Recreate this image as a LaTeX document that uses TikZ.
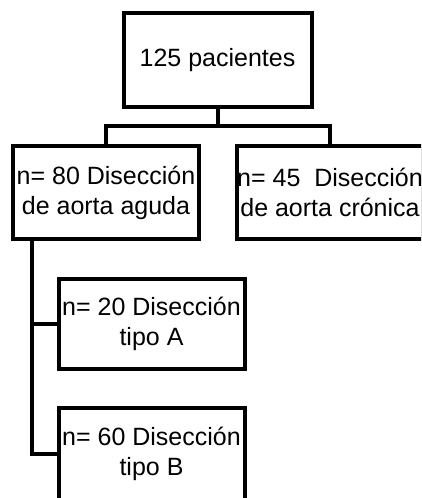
\documentclass[tikz,border=0pt]{standalone}
\usepackage{fontspec}
\setmainfont{Liberation Sans}
\begin{document}
\begin{tikzpicture}[x=1pt,y=-1pt,
  box/.style={draw, line width=4pt, inner sep=0pt, align=center,
    font=\fontsize{25}{30}\selectfont},
  link/.style={line width=4pt}]
\useasboundingbox (0,0) rectangle (421,498);
\clip (0,0) rectangle (421,498);
\node[box, minimum width=188pt, minimum height=94pt] (top) at (217.5,60) {125 pacientes};
\node[box, minimum width=186pt, minimum height=93pt] (left) at (106,192.5) {n= 80 Disección\\de aorta aguda};
\node[box, minimum width=186pt, minimum height=93pt] (right) at (330,192.5) {n=~45~~Disección\\de aorta crónica};
\node[box, minimum width=186pt, minimum height=90pt] (tA) at (151.5,324) {n= 20 Disección\\tipo A};
\node[box, minimum width=186pt, minimum height=92pt] (tB) at (151.5,454) {n= 60 Disección\\tipo B};
\coordinate (j) at (217.5,126);
\draw[link] (top.south) -- (j);
\draw[link] (left.north) |- (j) -| (right.north);
\coordinate (s) at (32,240);
\draw[link] (s) |- (tA.west);
\draw[link] (s) |- (tB.west);
\end{tikzpicture}
\end{document}
